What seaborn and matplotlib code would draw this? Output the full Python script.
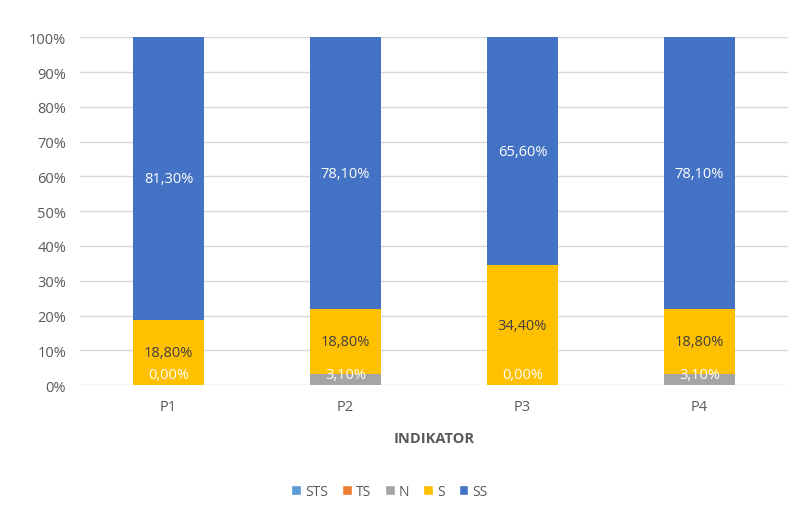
import numpy as np
import pandas as pd
import matplotlib
matplotlib.use("Agg")
import matplotlib.pyplot as plt
import seaborn as sns
from matplotlib.patches import Patch

categories = ["P1", "P2", "P3", "P4"]
series = ["STS", "TS", "N", "S", "SS"]
sts = [0.0, 0.0, 0.0, 0.0]
ts = [0.0, 0.0, 0.0, 0.0]
n = [0.0, 3.1, 0.0, 3.1]
s = [18.8, 18.8, 34.4, 18.8]
ss = [81.3, 78.1, 65.6, 78.1]
colors = {"STS": "#5B9BD5", "TS": "#ED7D31", "N": "#A5A5A5", "S": "#FFC000", "SS": "#4472C4"}
ytick_labels = ["0%", "10%", "20%", "30%", "40%", "50%", "60%", "70%", "80%", "90%", "100%"]

sns.set_theme(style="white")
plt.rcParams["font.family"] = ["Open Sans", "DejaVu Sans"]

df = pd.DataFrame({"cat": categories, "STS": sts, "TS": ts, "N": n, "S": s, "SS": ss})
vals = df[series].values
cum = np.cumsum(vals, axis=1)

fig = plt.figure(figsize=(8, 5.1), dpi=100)
ax = fig.add_axes([0.1, 0.243, 0.885, 0.682])

# draw stacked bars as cumulative layers, top layer first
for i in range(len(series) - 1, -1, -1):
    d = pd.DataFrame({"cat": categories, "val": cum[:, i]})
    sns.barplot(data=d, x="cat", y="val", color=colors[series[i]], width=0.4,
                saturation=1, ax=ax, order=categories, errorbar=None, zorder=2,
                linewidth=0, edgecolor="none")

ax.set_ylim(0, 100)
ax.set_xlim(-0.5, 3.5)
ax.set_yticks(np.arange(0, 101, 10))
ax.set_yticklabels(ytick_labels)
ax.yaxis.grid(True, color="#D9D9D9", linewidth=1)
ax.set_axisbelow(True)
for sp in ax.spines.values():
    sp.set_visible(False)
ax.tick_params(axis="both", length=0, labelsize=10.5, labelcolor="#595959")
ax.tick_params(axis="y", pad=10)
ax.tick_params(axis="x", pad=10)
ax.set_ylabel("")
ax.set_xlabel("INDIKATOR", fontsize=10.5, fontweight="bold", color="#595959", labelpad=12)

def fmt(v):
    return f"{v:.2f}%".replace(".", ",")

for j in range(len(categories)):
    nv = vals[j, 2]
    ymid = cum[j, 1] + nv / 2
    ax.text(j, max(ymid, 3.0), fmt(nv), ha="center", va="center", color="white", fontsize=10.5, zorder=5)
    sv = vals[j, 3]
    ax.text(j, cum[j, 2] + sv / 2, fmt(sv), ha="center", va="center", color="#404040", fontsize=10.5, zorder=5)
    ssv = vals[j, 4]
    ax.text(j, cum[j, 3] + ssv / 2, fmt(ssv), ha="center", va="center", color="white", fontsize=10.5, zorder=5)

handles = [Patch(facecolor=colors[k], label=k) for k in series]
fig.legend(handles=handles, loc="center", bbox_to_anchor=(0.487, 0.035), ncol=5, frameon=False,
           fontsize=10, handlelength=0.7, handleheight=0.7, handletextpad=0.3, columnspacing=1.0,
           labelcolor="#595959")

fig.savefig("out.png", dpi=100)
